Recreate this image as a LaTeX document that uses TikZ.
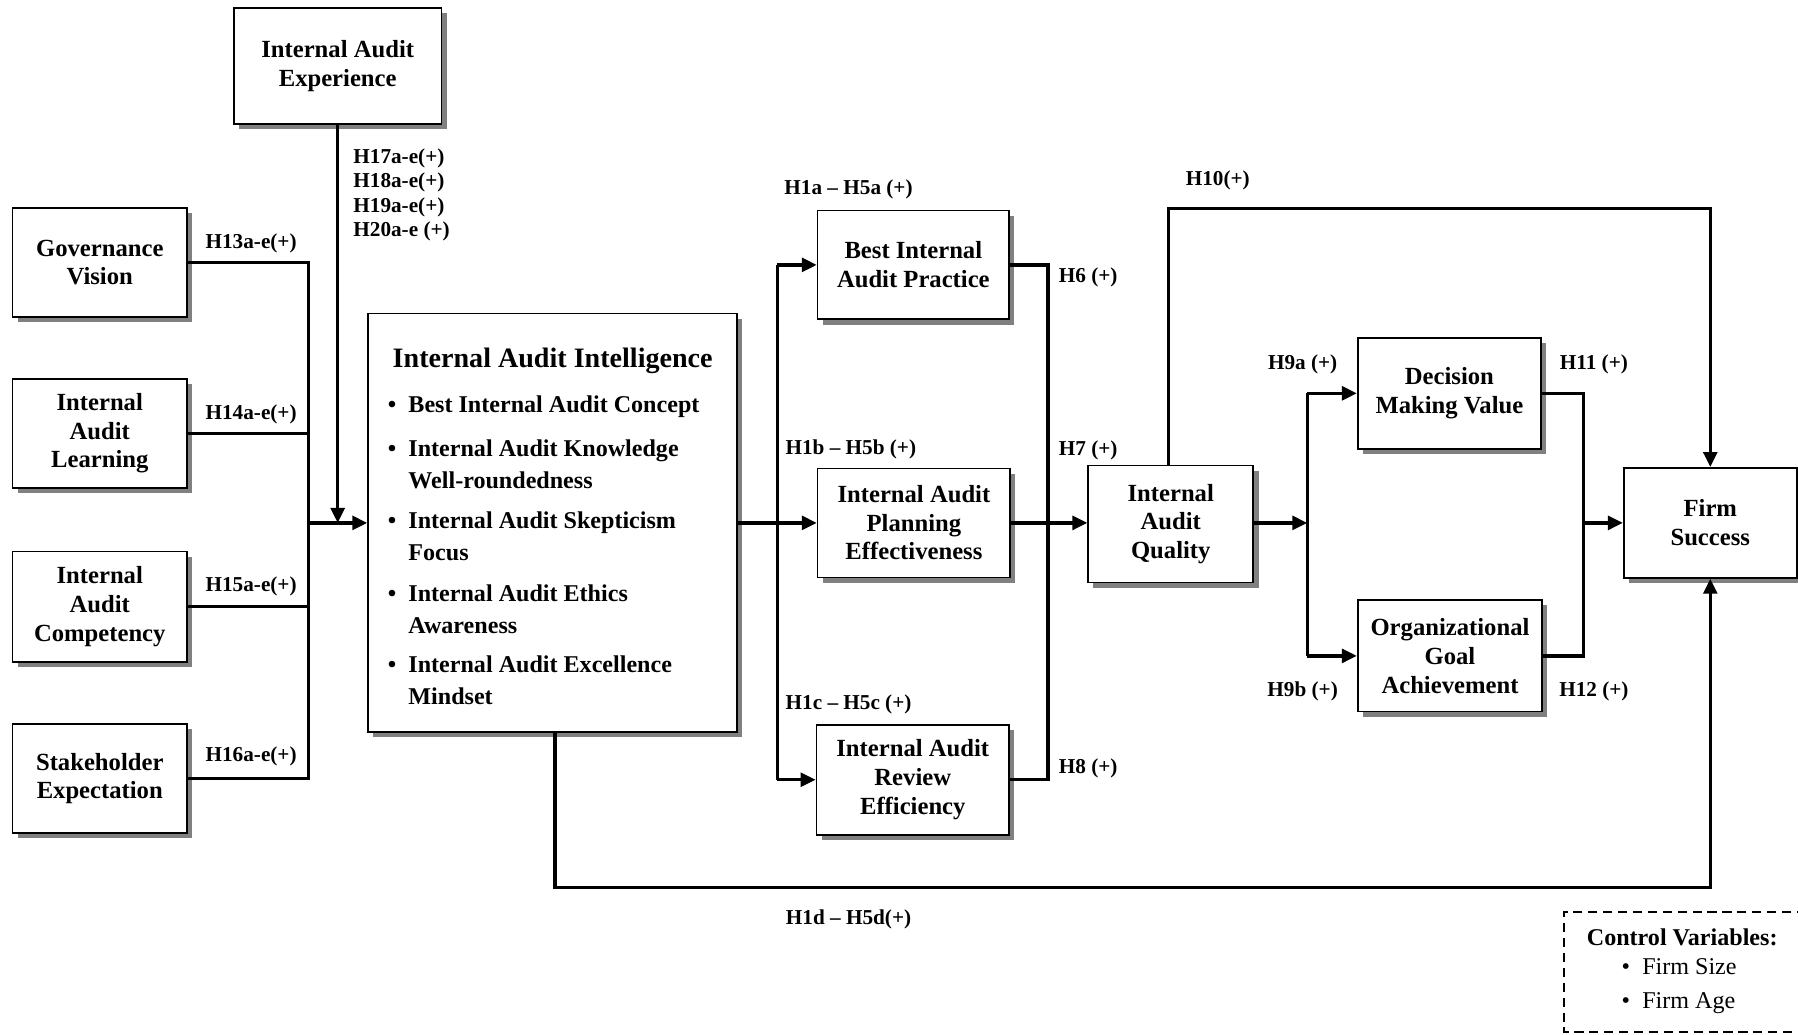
\documentclass[tikz,border=0pt]{standalone}
\usepackage{fontspec}
\setmainfont{Liberation Serif}
\usetikzlibrary{arrows.meta,shadows}
\newcommand\fsz[2]{\fontsize{#1}{#2}\selectfont}

\begin{document}
\begin{tikzpicture}[x=1pt,y=-1pt,
  box/.style={draw, line width=1.5pt, fill=white, align=center, inner sep=0pt,
    font=\bfseries\fsz{21.5}{25},
    drop shadow={shadow xshift=4.5pt, shadow yshift=-4.5pt, fill=black!50, opacity=1}},
  conn/.style={line width=2.9pt, line join=miter},
  arr/.style={conn, -{Triangle[length=13pt,width=12pt]}},
  lab/.style={font=\bfseries\fsz{18.5}{21.3}, inner sep=0pt},
  item/.style={anchor=west, align=left, inner sep=0pt, font=\bfseries\fsz{21}{28}}
]
\useasboundingbox (0,0) rectangle (1568,902);
\fill[white] (0,0) rectangle (1568,902);

% antecedents
\node[box, minimum width=181pt, minimum height=101pt] (exp) at (294.5,57.5) {Internal Audit\\Experience};
\node[box, minimum width=152pt, minimum height=95pt] (gov) at (87,229) {Governance\\Vision};
\node[box, minimum width=152pt, minimum height=95pt] (learn) at (87,378) {Internal\\Audit\\Learning};
\node[box, minimum width=152pt, minimum height=96pt] (comp) at (87,529) {Internal\\Audit\\Competency};
\node[box, minimum width=152pt, minimum height=95pt] (stake) at (87,679) {Stakeholder\\Expectation};

% central construct
\node[box, minimum width=322pt, minimum height=365pt] (iai) at (482,456) {};
\node[inner sep=0pt, font=\bfseries\fsz{24.5}{30}] (iait) at (482,315) {Internal Audit Intelligence};
\node[item] (i1) at (338,355) {\makebox[18pt][l]{\textbullet}Best Internal Audit Concept};
\node[item] (i2) at (338,405) {\makebox[18pt][l]{\textbullet}Internal Audit Knowledge\\\hspace*{18pt}Well-roundedness};
\node[item] (i3) at (338,468) {\makebox[18pt][l]{\textbullet}Internal Audit Skepticism\\\hspace*{18pt}Focus};
\node[item] (i4) at (338,531) {\makebox[18pt][l]{\textbullet}Internal Audit Ethics\\\hspace*{18pt}Awareness};
\node[item] (i5) at (338,593) {\makebox[18pt][l]{\textbullet}Internal Audit Excellence\\\hspace*{18pt}Mindset};

% mediators
\node[box, minimum width=167pt, minimum height=95pt] (best) at (796.5,231) {Best Internal\\Audit Practice};
\node[box, minimum width=168pt, minimum height=95pt] (plan) at (797,456) {Internal Audit\\Planning\\Effectiveness};
\node[box, minimum width=168pt, minimum height=96pt] (review) at (796,680) {Internal Audit\\Review\\Efficiency};
\node[box, minimum width=144pt, minimum height=102pt] (quality) at (1021,457) {Internal\\Audit\\Quality};
\node[box, minimum width=160pt, minimum height=97pt] (decision) at (1264,343) {Decision\\Making Value};
\node[box, minimum width=161pt, minimum height=97pt] (org) at (1264.5,572) {Organizational\\Goal\\Achievement};
\node[box, minimum width=151pt, minimum height=96pt] (firm) at (1491.5,456) {Firm\\Success};

% control variables
\draw[line width=1.8pt, dash pattern=on 8pt off 5pt] (1575,795) -- (1364,795) -- (1364,900) -- (1575,900);
\node[inner sep=0pt, font=\bfseries\fsz{21}{25}] (cvt) at (1467,817) {Control Variables:};
\node[anchor=west, align=left, inner sep=0pt, font=\fsz{21}{30}] (cvl) at (1414,860)
  {\makebox[18pt][l]{\textbullet}Firm Size\\\makebox[18pt][l]{\textbullet}Firm Age};

% junction points
\coordinate (busL) at (269,456);
\coordinate (busM) at (678,456);
\coordinate (busR) at (914,456);
\coordinate (busQ) at (1140,456);
\coordinate (busD) at (1381,456);
\coordinate (topl) at (1019,182);
\coordinate (botl) at (484,774);

% antecedents -> intelligence
\draw[conn] (gov.east) -- (gov.east -| busL) -- (stake.east -| busL) -- (stake.east);
\draw[conn] (learn.east) -- (learn.east -| busL);
\draw[conn] (comp.east) -- (comp.east -| busL);
\draw[arr] (busL) -- (iai.west |- busL);
\draw[arr] (exp.south) -- (exp.south |- busL);

% intelligence -> practices
\draw[conn] (busM |- best.west) -- (busM |- review.west);
\draw[arr] (iai.east |- busM) -- (plan.west);
\draw[arr] (busM |- best.west) -- (best.west);
\draw[arr] (busM |- review.west) -- (review.west);

% practices -> quality
\draw[conn] (best.east) -- (best.east -| busR) -- (review.east -| busR) -- (review.east);
\draw[arr] (plan.east) -- (quality.west |- plan.east);

% quality -> outcomes
\draw[arr] (quality.east |- busQ) -- (busQ);
\draw[conn] (busQ |- decision.west) -- (busQ |- org.west);
\draw[arr] (busQ |- decision.west) -- (decision.west);
\draw[arr] (busQ |- org.west) -- (org.west);
\draw[conn] (decision.east) -- (decision.east -| busD) -- (org.east -| busD) -- (org.east);
\draw[arr] (busD) -- (firm.west |- busD);

% direct paths to firm success
\draw[arr] (quality.north -| topl) -- (topl) -- (topl -| firm.north) -- (firm.north);
\draw[arr] (iai.south -| botl) -- (botl) -- (botl -| firm.south) -- (firm.south);

% hypothesis labels
\node[lab] (h13) at (219,212) {H13a-e(+)};
\node[lab] (h14) at (219,361) {H14a-e(+)};
\node[lab] (h15) at (219,511) {H15a-e(+)};
\node[lab] (h16) at (219,660) {H16a-e(+)};
\node[lab, anchor=west, align=left] (h17) at (308,170) {H17a-e(+)\\H18a-e(+)\\H19a-e(+)\\H20a-e (+)};
\node[lab] (h1a) at (740,165) {H1a -- H5a (+)};
\node[lab] (h1b) at (742,392) {H1b -- H5b (+)};
\node[lab] (h1c) at (740,614) {H1c -- H5c (+)};
\node[lab] (h1d) at (740,802) {H1d -- H5d(+)};
\node[lab] (h6) at (949,242) {H6 (+)};
\node[lab] (h7) at (949,393) {H7 (+)};
\node[lab] (h8) at (949,670) {H8 (+)};
\node[lab] (h9a) at (1136,318) {H9a (+)};
\node[lab] (h9b) at (1136,603) {H9b (+)};
\node[lab] (h10) at (1062,157) {H10(+)};
\node[lab] (h11) at (1390,318) {H11 (+)};
\node[lab] (h12) at (1390,603) {H12 (+)};
\end{tikzpicture}
\end{document}
